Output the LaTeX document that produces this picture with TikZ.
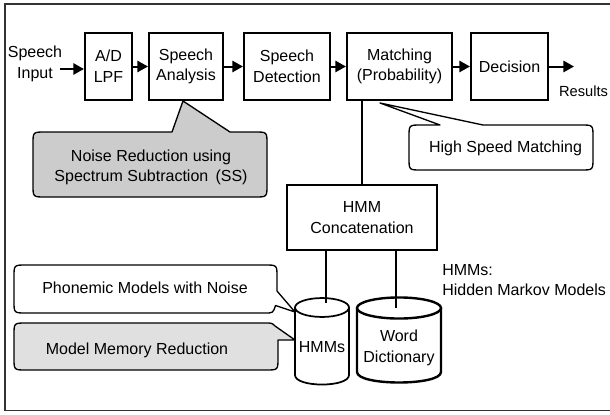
\documentclass[tikz,border=0pt]{standalone}
\usepackage{fontspec}
\setmainfont{Liberation Sans}
\usetikzlibrary{arrows.meta}
\begin{document}
\begin{tikzpicture}[x=0.75pt,y=-0.75pt,
  every node/.style={font=\fontsize{12}{15.5}\selectfont, align=center, inner sep=0pt},
  block/.style={draw, line width=1.6pt, minimum height=50.25pt},
  flow/.style={line width=1.5pt, -{Triangle[length=8pt,width=8.5pt]}},
  link/.style={line width=1.5pt},
  bubble/.style={draw, line width=1pt, line join=round},
  drum/.style={draw, fill=white},
  frame/.style={draw=black!80, line width=1.2pt}]

\useasboundingbox (0,0) rectangle (610,414);

% outer frame (open on the right)
\draw[frame] (612,4) -- (5,4) -- (5,410.5) -- (612,410.5);

% processing chain
\node (input) at (35,64) {Speech\\Input};
\node[block, minimum width=35.25pt] (adlpf) at (108.5,66.5) {A/D\\LPF};
\node[block, minimum width=55.5pt] (analysis) at (186,66.5) {Speech\\Analysis};
\node[block, minimum width=64.5pt] (detection) at (287,66.5) {Speech\\Detection};
\node[block, minimum width=78.75pt] (matching) at (399.5,66.5) {Matching\\(Probability)};
\node[block, minimum width=57.75pt] (decision) at (509.5,66.5) {Decision};
\coordinate (out) at (574,66.5);
\node[font=\fontsize{11}{13}\selectfont] (results) at (583.5,91) {Results};

\draw[flow] (input.east |- 0,69) ++(-2,0) -- (adlpf.west |- 0,69);
\draw[flow] (adlpf) -- (analysis);
\draw[flow] (analysis) -- (detection);
\draw[flow] (detection) -- (matching);
\draw[flow] (matching) -- (decision);
\draw[flow] (decision) -- (out);

% model side
\node[block, minimum width=112.5pt, minimum height=48.75pt] (concat) at (362,217.5) {HMM\\Concatenation};
\draw[link] (concat.north) -- (concat.north |- matching.south);

% HMM store
\path[drum, line width=1.3pt] (295,307.5) -- (295,375) .. controls (295,387.7) and (349,387.7) .. (349,375) -- (349,307.5);
\draw[line width=1.3pt] (322,307.5) ellipse [x radius=20.25pt, y radius=7.1pt];
\node (hmms) at (322,347) {HMMs};
\coordinate (hmmtop) at (326,303);

% word dictionary store
\path[drum, line width=1.8pt] (357,308) -- (357,372) .. controls (357,386) and (441,386) .. (441,372) -- (441,308);
\draw[line width=1.8pt] (399,308) ellipse [x radius=31.5pt, y radius=7.9pt];
\node (dict) at (399,348) {Word\\Dictionary};
\coordinate (dicttop) at (396,308);

\draw[link] (concat.south -| hmmtop) -- (hmmtop);
\draw[link] (concat.south -| dicttop) -- (dicttop);

\node[anchor=west, align=left] (hmmnote) at (442,280) {HMMs:\\Hidden Markov Models};

% callouts
\path[bubble, fill=black!20] (45,132) -- (172,132) -- (183,101) -- (230,132) -- (255,132)
  .. controls (267,132) .. (267,144) -- (267,185) .. controls (267,197) .. (255,197)
  -- (45,197) .. controls (33,197) .. (33,185) -- (33,144) .. controls (33,132) .. (45,132) -- cycle;
\node (noise) at (151,167.5) {Noise Reduction using\\Spectrum Subtraction\hspace{0.45em}(SS)};

\path[bubble, fill=white] (421,125) -- (440,125) -- (380,103) -- (483,125) -- (581,125)
  .. controls (593,125) .. (593,137) -- (593,158) .. controls (593,170) .. (581,170)
  -- (421,170) .. controls (409,170) .. (409,158) -- (409,137) .. controls (409,125) .. (421,125) -- cycle;
\node (speed) at (505.5,148) {High Speed Matching};

\path[bubble, fill=white] (26,265) -- (265,265) .. controls (277,265) .. (277,277) -- (277,291)
  -- (295,312) -- (275.5,305.5) .. controls (273,313) .. (265,313)
  -- (26,313) .. controls (14,313) .. (14,301) -- (14,277) .. controls (14,265) .. (26,265) -- cycle;
\node (phon) at (145,288) {Phonemic Models with Noise};

\path[bubble, fill=black!12] (26,323) -- (265,323) .. controls (272,323) .. (275,326)
  -- (295,340) -- (278,340) -- (278,358) .. controls (278,370) .. (266,370)
  -- (26,370) .. controls (14,370) .. (14,358) -- (14,335) .. controls (14,323) .. (26,323) -- cycle;
\node (memory) at (137,350) {Model Memory Reduction};

\end{tikzpicture}
\end{document}
